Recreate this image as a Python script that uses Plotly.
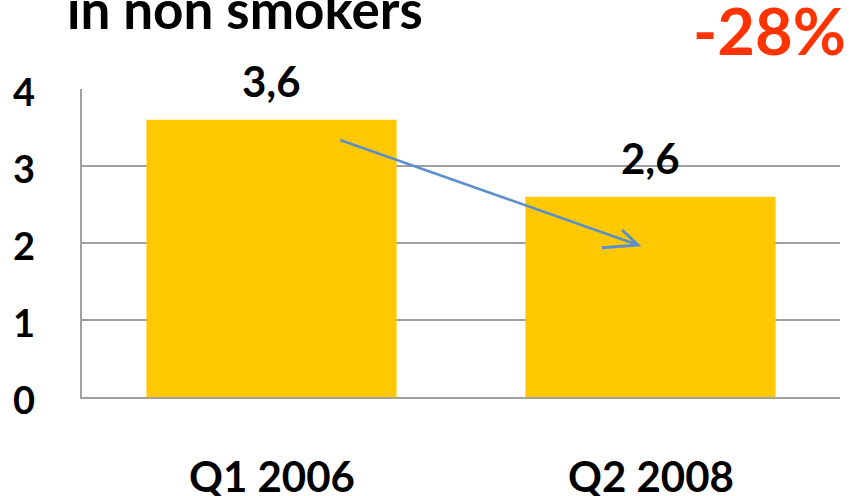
import plotly.graph_objects as go

categories = ["Q1 2006", "Q2 2008"]
values = [3.6, 2.6]
value_labels = ["3,6", "2,6"]
y_ticks = [0, 1, 2, 3, 4]
title_text = "in non smokers"
change_text = "-28%"

FONT = "Lato, 'Open Sans', sans-serif"
fig = go.Figure()
fig.add_trace(go.Bar(
    x=categories, y=values, marker=dict(color="#FFC800", line=dict(width=0)),
    hoverinfo="skip",
))

# value labels above bars
for c, v, t in zip(categories, values, value_labels):
    fig.add_annotation(x=c, y=v, text=f"<b>{t}</b>", showarrow=False,
                       yanchor="middle", yshift=39,
                       font=dict(family=FONT, size=42, color="#000000"))

# category labels
for c in categories:
    fig.add_annotation(x=c, xref="x", y=0, yref="paper", text=f"<b>{c}</b>",
                       showarrow=False, yanchor="middle", yshift=-79, borderpad=0,
                       font=dict(family=FONT, size=42, color="#000000"))

# y tick labels
for t in y_ticks:
    fig.add_annotation(xref="paper", x=-0.059, y=t, yref="y", text=f"<b>{t}</b>",
                       showarrow=False, xanchor="right", yanchor="middle", yshift=-2,
                       font=dict(family=FONT, size=38, color="#000000"))

# trend arrow (decorative): shaft and open chevron head
ARROW = "#5A8FCB"
fig.add_shape(type="line", xref="x", yref="y", x0=0.181, y0=3.338, x1=0.967, y1=1.974,
              line=dict(color=ARROW, width=2.5))
fig.add_shape(type="path", xref="x", yref="y",
              path="M 0.925 2.169 L 0.967 1.974 L 0.872 1.937",
              line=dict(color=ARROW, width=3))

# title (partially cut off at top, as in the reference)
fig.add_annotation(xref="paper", yref="paper", x=-0.022, y=1.152, xanchor="left",
                   yanchor="bottom", text=f"<b>{title_text}</b>", showarrow=False,
                   font=dict(family=FONT, size=53, color="#000000"))
fig.add_annotation(xref="paper", yref="paper", x=1.011, y=1.19, xanchor="right",
                   yanchor="middle", text=f"<b>{change_text}</b>", showarrow=False,
                   font=dict(family=FONT, size=65, color="#FF3300"))

fig.update_layout(
    width=852, height=496,
    margin=dict(l=82, r=12, t=89, b=99),
    paper_bgcolor="white", plot_bgcolor="white",
    bargap=0.34, showlegend=False,
    xaxis=dict(showline=True, linecolor="#A0A0A0", linewidth=2, showgrid=False,
               ticks="", showticklabels=False, automargin=False),
    yaxis=dict(range=[0, 4], tickvals=y_ticks, showticklabels=False, automargin=False,
               showgrid=True, gridcolor="#A0A0A0", gridwidth=2,
               showline=True, linecolor="#A0A0A0", linewidth=2, zeroline=False),
)
fig.write_html("out.html", config={"displayModeBar": False},
               post_script="document.body.style.margin='0';document.body.style.padding='0';")
